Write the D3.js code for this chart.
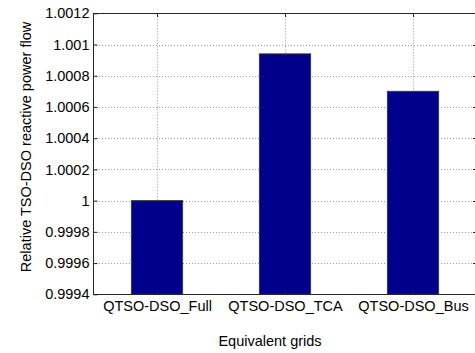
<!DOCTYPE html>
<html>
<head>
<meta charset="utf-8">
<script src="https://cdn.jsdelivr.net/npm/d3@7"></script>
<style>
  html, body { margin: 0; padding: 0; background: #fff; }
  svg { display: block; }
  text { font-family: "Liberation Sans", Arial, Helvetica, sans-serif; fill: #000; }
</style>
</head>
<body>
<svg id="chart" width="475" height="353"></svg>
<script>
// Equivalent grid variants and their relative TSO-DSO reactive power flow
const categories = ["QTSO-DSO_Full", "QTSO-DSO_TCA", "QTSO-DSO_Bus"];
const values = [1.0000, 1.00094, 1.00070];
const yTicks = [0.9994, 0.9996, 0.9998, 1, 1.0002, 1.0004, 1.0006, 1.0008, 1.001, 1.0012];
const yTickLabels = ["0.9994", "0.9996", "0.9998", "1", "1.0002", "1.0004", "1.0006", "1.0008", "1.001", "1.0012"];
const xTitle = "Equivalent grids";
const yTitle = "Relative TSO-DSO reactive power flow";

const svg = d3.select("#chart");
const m = { left: 93, right: 477, top: 13.3, bottom: 294.3 };
const fontSize = 14.5;
const fontFamily = "'Liberation Sans', Arial, Helvetica, sans-serif";

// linear x scale over bar indices, matching bar-chart limits [0.5, 3.5]
const x = d3.scaleLinear().domain([0.5, categories.length + 0.5]).range([m.left, m.right]);
const y = d3.scaleLinear().domain([0.9994, 1.0012]).range([m.bottom, m.top]);
const barW = (x(1) - x(0)) * 0.4;

const gridColor = "#9a9a9a";
const grid = svg.append("g");
// horizontal dotted grid lines
grid.selectAll("line.h").data(yTicks.slice(1, -1)).join("line")
  .attr("x1", m.left).attr("x2", m.right)
  .attr("y1", d => Math.round(y(d)) + 0.5).attr("y2", d => Math.round(y(d)) + 0.5)
  .attr("stroke", gridColor).attr("stroke-width", 1).attr("stroke-dasharray", "1,2");
// vertical dotted grid lines at category positions
grid.selectAll("line.v").data(d3.range(1, categories.length + 1)).join("line")
  .attr("x1", d => Math.round(x(d)) + 0.5).attr("x2", d => Math.round(x(d)) + 0.5)
  .attr("y1", m.top).attr("y2", m.bottom)
  .attr("stroke", gridColor).attr("stroke-width", 1).attr("stroke-dasharray", "1,2");

// bars rising from the bottom of the axis
svg.append("g").selectAll("rect").data(values).join("rect")
  .attr("x", (d, i) => x(i + 1) - barW / 2)
  .attr("width", barW)
  .attr("y", d => y(d))
  .attr("height", d => m.bottom - y(d))
  .attr("fill", "#00008b")
  .attr("stroke", "#3a3a3a").attr("stroke-width", 1);

// axes box
const axisColor = "#262626";
svg.append("rect")
  .attr("x", m.left + 0.5).attr("y", Math.round(m.top) + 0.5)
  .attr("width", m.right - m.left).attr("height", Math.round(m.bottom) - Math.round(m.top))
  .attr("fill", "none").attr("stroke", axisColor).attr("stroke-width", 1);

// left y axis with inward ticks
const yAxis = d3.axisLeft(y).tickValues(yTicks)
  .tickFormat((d, i) => yTickLabels[i]).tickSizeInner(-4).tickSizeOuter(0).tickPadding(4);
const gy = svg.append("g").attr("transform", `translate(${m.left + 0.5},0)`).call(yAxis);
gy.attr("font-size", fontSize).attr("font-family", fontFamily);
gy.select(".domain").remove();
gy.selectAll(".tick line").attr("stroke", axisColor);

// right-side inward ticks
svg.append("g").selectAll("line").data(yTicks).join("line")
  .attr("x1", m.right - 4).attr("x2", m.right)
  .attr("y1", d => Math.round(y(d)) + 0.5).attr("y2", d => Math.round(y(d)) + 0.5)
  .attr("stroke", axisColor);

// bottom x axis with category labels
const xAxis = d3.axisBottom(x).tickValues(d3.range(1, categories.length + 1))
  .tickFormat(d => categories[d - 1]).tickSizeInner(-4).tickSizeOuter(0).tickPadding(6);
const gx = svg.append("g").attr("transform", `translate(0,${Math.round(m.bottom) + 0.5})`).call(xAxis);
gx.attr("font-size", fontSize).attr("font-family", fontFamily);
gx.select(".domain").remove();
gx.selectAll(".tick line").attr("stroke", axisColor);

// top inward ticks
svg.append("g").selectAll("line").data(d3.range(1, categories.length + 1)).join("line")
  .attr("x1", d => Math.round(x(d)) + 0.5).attr("x2", d => Math.round(x(d)) + 0.5)
  .attr("y1", Math.round(m.top)).attr("y2", Math.round(m.top) + 4)
  .attr("stroke", axisColor);

// axis titles
svg.append("text")
  .attr("x", 270).attr("y", 346)
  .attr("text-anchor", "middle").attr("font-size", fontSize)
  .text(xTitle);
svg.append("text")
  .attr("transform", `translate(31,147) rotate(-90)`)
  .attr("text-anchor", "middle").attr("font-size", fontSize)
  .text(yTitle);
</script>
</body>
</html>
